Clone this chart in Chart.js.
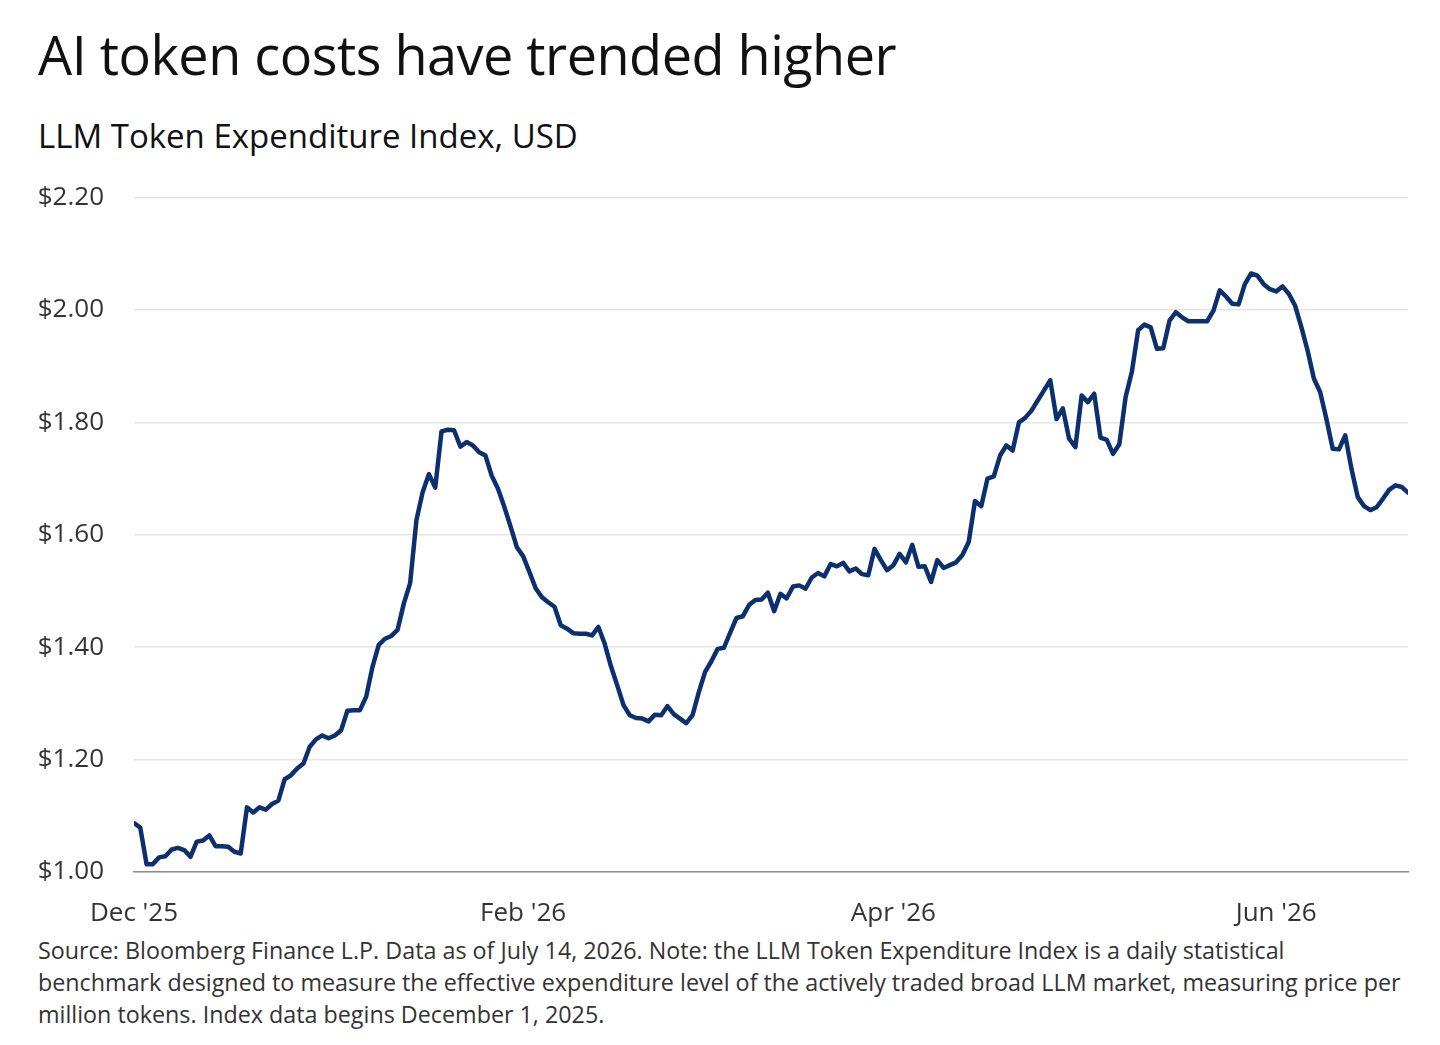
<!DOCTYPE html>
<html>
<head>
<meta charset="utf-8">
<script src="https://cdn.jsdelivr.net/npm/chart.js@4.4.1/dist/chart.umd.min.js"></script>
<style>
  html, body { margin: 0; padding: 0; background: #fff; }
  body { width: 1440px; height: 1045px; position: relative; overflow: hidden; font-family: "Open Sans", sans-serif; }
  .t { position: absolute; left: 38px; white-space: nowrap; }
  #title { top: 22px; font-size: 54px; line-height: 64px; color: #111; letter-spacing: -0.5px; }
  #subtitle { top: 114px; font-size: 33px; line-height: 44px; color: #111; }
  #note { top: 934px; font-size: 23.3px; line-height: 32px; color: #333; }
  #wrap { position: absolute; left: 0; top: 152px; width: 1440px; height: 778px; }
</style>
</head>
<body>
<div class="t" id="title">AI token costs have trended higher</div>
<div class="t" id="subtitle">LLM Token Expenditure Index, USD</div>
<div id="wrap"><canvas id="c"></canvas></div>
<div class="t" id="note">Source: Bloomberg Finance L.P. Data as of July 14, 2026. Note: the LLM Token Expenditure Index is a daily statistical<br>benchmark designed to measure the effective expenditure level of the actively traded broad LLM market, measuring price per<br>million tokens. Index data begins December 1, 2025.</div>
<script>
// Daily index values, starting December 1, 2025 (day 0)
const indexValues = [
  1.087, 1.079, 1.014, 1.014, 1.026, 1.028, 1.040, 1.043, 1.039, 1.027,
  1.054, 1.056, 1.065, 1.046, 1.046, 1.045, 1.036, 1.033, 1.115, 1.106,
  1.115, 1.111, 1.121, 1.127, 1.165, 1.172, 1.184, 1.193, 1.223, 1.236,
  1.243, 1.238, 1.243, 1.252, 1.287, 1.288, 1.288, 1.312, 1.365, 1.404,
  1.415, 1.420, 1.431, 1.478, 1.514, 1.626, 1.676, 1.708, 1.684, 1.784,
  1.787, 1.786, 1.757, 1.765, 1.759, 1.747, 1.741, 1.705, 1.682, 1.650,
  1.615, 1.578, 1.562, 1.534, 1.505, 1.489, 1.480, 1.472, 1.439, 1.433,
  1.425, 1.424, 1.424, 1.421, 1.436, 1.406, 1.366, 1.332, 1.297, 1.279,
  1.274, 1.273, 1.268, 1.280, 1.279, 1.295, 1.281, 1.273, 1.265, 1.279,
  1.320, 1.356, 1.375, 1.397, 1.399, 1.426, 1.452, 1.455, 1.475, 1.484,
  1.485, 1.497, 1.464, 1.495, 1.487, 1.508, 1.510, 1.504, 1.524, 1.532,
  1.526, 1.548, 1.544, 1.550, 1.535, 1.540, 1.530, 1.528, 1.575, 1.555,
  1.537, 1.546, 1.566, 1.551, 1.582, 1.543, 1.544, 1.516, 1.555, 1.541,
  1.546, 1.551, 1.564, 1.587, 1.660, 1.651, 1.700, 1.704, 1.741, 1.759,
  1.750, 1.800, 1.808, 1.821, 1.839, 1.857, 1.875, 1.806, 1.825, 1.771,
  1.756, 1.848, 1.836, 1.851, 1.773, 1.769, 1.744, 1.761, 1.845, 1.890,
  1.964, 1.974, 1.969, 1.931, 1.932, 1.981, 1.996, 1.987, 1.980, 1.980,
  1.980, 1.980, 1.999, 2.035, 2.024, 2.011, 2.010, 2.046, 2.065, 2.061,
  2.046, 2.037, 2.033, 2.042, 2.029, 2.008, 1.970, 1.928, 1.878, 1.854,
  1.806, 1.753, 1.752, 1.777, 1.717, 1.667, 1.651, 1.644, 1.649, 1.664,
  1.680, 1.688, 1.685, 1.675
];
// Days since December 1, 2025 for each month tick
const tickDays = [0, 62, 121, 182];
const tickLabels = ["Dec '25", "Feb '26", "Apr '26", "Jun '26"];
const yMin = 1.0, yMax = 2.2, yStep = 0.2;

const points = indexValues.map((v, i) => ({ x: i, y: v }));
const font = "'Open Sans', sans-serif";

new Chart(document.getElementById('c'), {
  type: 'line',
  data: {
    datasets: [{
      data: points,
      borderColor: '#0c2f6d',
      borderWidth: 4.5,
      pointRadius: 0,
      tension: 0,
      borderJoinStyle: 'round',
      borderCapStyle: 'round'
    }]
  },
  options: {
    responsive: true,
    maintainAspectRatio: false,
    animation: false,
    layout: { padding: { top: 9, right: 32, bottom: 0, left: 0 } },
    plugins: { legend: { display: false }, tooltip: { enabled: false } },
    scales: {
      x: {
        type: 'linear',
        min: 0,
        max: indexValues.length - 1,
        afterBuildTicks: (s) => { s.ticks = tickDays.map(v => ({ value: v })); },
        afterFit: (s) => { s.height = 58; },
        grid: { display: false, drawTicks: false },
        border: { display: true, color: '#8c8c8c', width: 1.5 },
        ticks: {
          padding: 26,
          autoSkip: false,
          maxRotation: 0,
          color: '#333',
          font: { family: font, size: 26 },
          callback: (v) => tickLabels[tickDays.indexOf(v)] ?? ''
        }
      },
      y: {
        min: yMin,
        max: yMax,
        afterFit: (s) => { s.width = 134; },
        grid: { color: '#e6e6e6', lineWidth: 1.5, drawTicks: false },
        border: { display: false },
        ticks: {
          stepSize: yStep,
          padding: 30,
          color: '#333',
          font: { family: font, size: 26 },
          callback: (v) => '$' + v.toFixed(2)
        }
      }
    }
  }
});
</script>
</body>
</html>
